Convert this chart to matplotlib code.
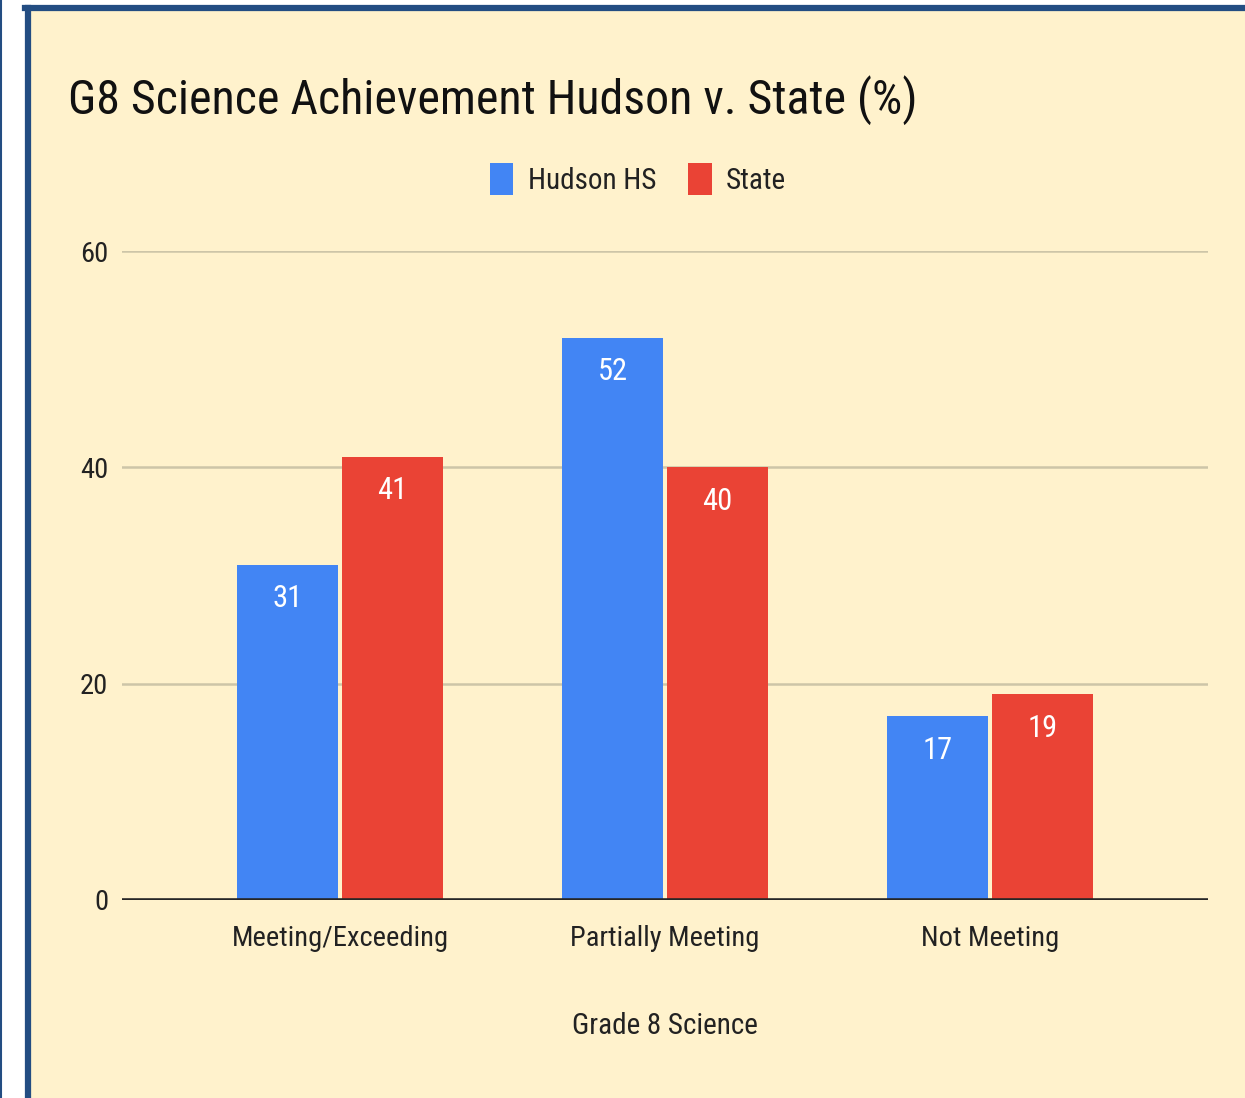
import matplotlib
matplotlib.use("Agg")
import matplotlib.pyplot as plt
from matplotlib import font_manager
from matplotlib.patches import Rectangle
from matplotlib.lines import Line2D
import numpy as np

categories = ["Meeting/Exceeding", "Partially Meeting", "Not Meeting"]
hudson = [31, 52, 17]
state = [41, 40, 19]
series_names = ["Hudson HS", "State"]
yticks = [0, 20, 40, 60]
title = "G8 Science Achievement Hudson v. State (%)"
xlabel = "Grade 8 Science"

avail = {f.name for f in font_manager.fontManager.ttflist}
family = "DejaVu Sans"
for cand in ["Roboto Condensed", "Liberation Sans Narrow", "Roboto"]:
    if cand in avail:
        family = cand
        break
plt.rcParams["font.family"] = [family, "DejaVu Sans"]

W, H = 1245, 1098
fig = plt.figure(figsize=(W / 100, H / 100), dpi=100)
fig.patch.set_facecolor("white")

def fx(px):
    return px / W

def fy(py):
    return 1 - py / H

BG = "#FFF2CC"
FRAME = "#234d82"
fig.patches.append(Rectangle((fx(28), 0), 1 - fx(28), fy(8), transform=fig.transFigure,
                             facecolor=BG, edgecolor="none", zorder=-5))
fig.add_artist(Line2D([fx(28), fx(28)], [0, fy(8)], transform=fig.transFigure, color=FRAME, lw=4.5, zorder=-4))
fig.add_artist(Line2D([fx(25), 1], [fy(8), fy(8)], transform=fig.transFigure, color=FRAME, lw=4.5, zorder=-4))
fig.add_artist(Line2D([fx(1), fx(1)], [0, 1], transform=fig.transFigure, color=FRAME, lw=1.5, zorder=-4))

ax = fig.add_axes([fx(122), fy(900), fx(1208) - fx(122), fy(251) - fy(900)])
ax.set_facecolor("none")
ax.set_zorder(2)

x = np.arange(len(categories))
w = 0.31
off = 0.1615
BLUE = "#4285F4"
RED = "#EA4335"
b1 = ax.bar(x - off, hudson, w, color=BLUE, zorder=3, label=series_names[0])
b2 = ax.bar(x + off, state, w, color=RED, zorder=3, label=series_names[1])

for bars in (b1, b2):
    for r in bars:
        ax.annotate(f"{int(r.get_height())}", (r.get_x() + r.get_width() / 2, r.get_height()),
                    xytext=(0, -24.5), textcoords="offset points", ha="center", va="center",
                    color="white", fontsize=22, zorder=4)

ax.set_xlim(-0.671, 2.671)
ax.set_ylim(0, 60)
ax.set_yticks(yticks)
ax.set_xticks(x)
ax.set_xticklabels(categories)
ax.tick_params(axis="both", length=0, labelsize=20.5, colors="#222222")
ax.tick_params(axis="y", pad=10)
ax.tick_params(axis="x", pad=18)
ax.grid(axis="y", color="#cdc5a8", lw=1.8, zorder=1)
ax.axhline(0, color="#262626", lw=2.6, zorder=5)
for s in ax.spines.values():
    s.set_visible(False)

fig.text(fx(68), fy(114), title, fontsize=34.5, color="#111111", ha="left", va="baseline")
fig.text(fx(665), fy(1026), xlabel, fontsize=21, color="#222222", ha="center", va="center")

leg = fig.legend(handles=[b1, b2], labels=series_names, loc="center",
                 bbox_to_anchor=(fx(638), fy(179)), ncol=2, frameon=False,
                 fontsize=21, handlelength=0.8, handleheight=1.3, handletextpad=0.5,
                 columnspacing=1.1, labelcolor="#222222")

fig.savefig("out.png", dpi=100, facecolor="white")
